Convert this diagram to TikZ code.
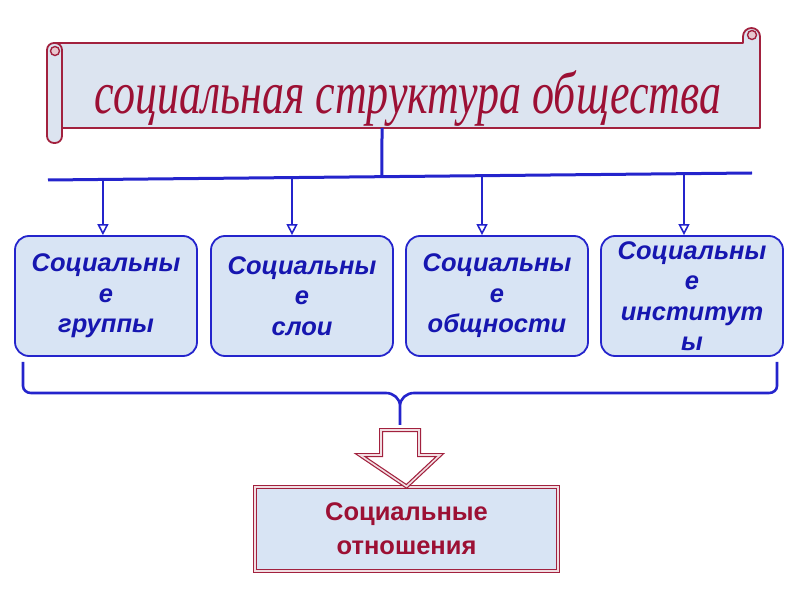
\documentclass[tikz,border=0pt]{standalone}
\usepackage{fontspec}
\setmainfont{Liberation Sans}
\newfontfamily\scrollfont{Liberation Serif}
\usetikzlibrary{arrows.meta,positioning,calc}
\definecolor{LinkBlue}{HTML}{2424CC}
\definecolor{TextBlue}{HTML}{1616B0}
\definecolor{BoxFill}{HTML}{D8E4F4}
\definecolor{ScrollRed}{HTML}{A2213E}
\definecolor{ScrollFill}{HTML}{DCE4F0}
\definecolor{TitleRed}{HTML}{9C1034}

\begin{document}
\begin{tikzpicture}[
  x=1pt, y=1pt,
  scroll/.style={draw=ScrollRed, line width=1.8pt, fill=ScrollFill, line join=round},
  curl/.style={draw=ScrollRed, line width=1.4pt, fill=ScrollRed!25},
  title/.style={text=TitleRed, font=\scrollfont\itshape\fontsize{44}{44}\selectfont, inner sep=0pt, anchor=base},
  box/.style={draw=LinkBlue, line width=1.8pt, rounded corners=14pt, fill=BoxFill,
    minimum width=182pt, minimum height=120pt, inner sep=0pt, align=center,
    text=TextBlue, font=\bfseries\itshape\fontsize{25.5}{30.5}\selectfont},
  result/.style={draw=ScrollRed, double=ScrollRed!15, double distance=2pt, line width=1.2pt,
    fill=BoxFill, minimum width=303pt, minimum height=84pt, inner sep=0pt, align=center,
    text=TitleRed, font=\bfseries\fontsize{25.5}{34}\selectfont},
  bus/.style={LinkBlue, line width=3pt},
  arrow/.style={-{Triangle[open, length=11pt, width=11pt]}, LinkBlue, line width=1.6pt},
  blockarrow/.style={draw=ScrollRed, double=ScrollRed!15, double distance=1.6pt, line width=1.2pt, fill=white, line join=miter}
]
\useasboundingbox (0,0) rectangle (800,600);

\draw[scroll] (56,557) -- (743,557) -- (743,563.5) arc[start angle=180, end angle=0, radius=8.5]
  -- (760,472) -- (56,472) -- cycle;
\draw[scroll, rounded corners=7pt] (47,457) rectangle (62,557);
\draw[curl] (55,549) circle[radius=4.5];
\draw[curl] (752,565) circle[radius=4.5];
\node[title] (title) at (408,486) {\scalebox{1}[1.36]{социальная структура общества}};

\coordinate (busL) at (48,420);
\coordinate (busR) at (752,427);
\coordinate (stem) at (382,472);
\draw[bus] (busL) -- (busR);
\draw[bus] (stem) -- ($(busL)!0.4744!(busR)$);

\node[box] (groups) at (106,304) {Социальны\\е\\группы};
\node[box] (layers) at (302,304) {Социальны\\е\\слои};
\node[box] (communities) at (497,304) {Социальны\\е\\общности};
\node[box] (institutions) at (692,304) {Социальны\\е\\институт\\ы};

\foreach \t/\n in {0.078/groups, 0.3466/layers, 0.6165/communities, 0.9034/institutions}{
  \path ($(busL)!\t!(busR)$) coordinate (drop);
  \draw[arrow] (drop) -- (drop |- \n.north);
}

\draw[bus, line width=2.6pt] (23,238) -- (23,214) to[out=-90,in=180] (31,207) -- (386,207)
  to[out=0,in=90] (400,194) -- (400,175) coordinate (brace)
  (400,194) to[out=90,in=180] (414,207) -- (769,207) to[out=0,in=-90] (777,214) -- (777,238);

\node[result] (relations) at (406.5,71) {Социальные\\отношения};
\draw[blockarrow] (381,170) -- (419,170) -- (419,145) -- (440,145) -- (relations.north) -- (360,145) -- (381,145) -- cycle;
\end{tikzpicture}
\end{document}
